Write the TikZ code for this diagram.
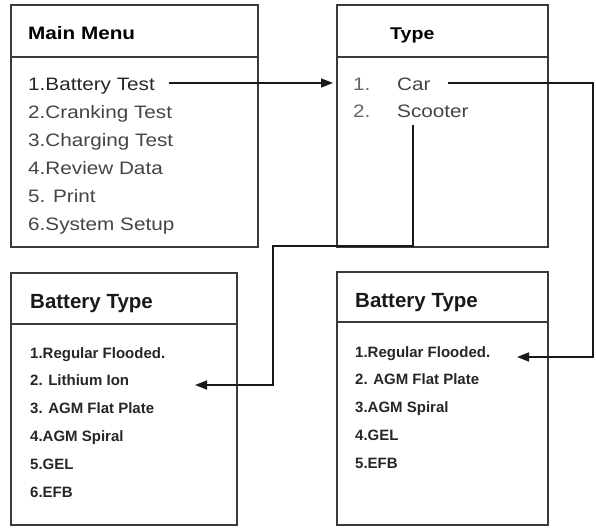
\documentclass[tikz,border=0pt]{standalone}
\usepackage{fontspec}
\setmainfont{Liberation Sans}
\newfontfamily\widefont[FakeStretch=1.15]{Liberation Sans}
\usepackage{tikz}
\usetikzlibrary{positioning}
\usetikzlibrary{arrows.meta}
\usepackage{xcolor}
\definecolor{framegray}{HTML}{3A3A3A}
\definecolor{itemgray}{HTML}{444444}
\definecolor{numgray}{HTML}{666666}

\begin{document}
\begin{tikzpicture}[
        x=1pt, y=-1pt,
        node distance=27.8pt,
        panel/.style={draw=framegray, line width=1.7pt, rectangle, inner sep=0pt},
        rule/.style={draw=framegray, line width=1.7pt},
        heading/.style={anchor=base west, inner sep=0pt, text=black,
            font=\widefont\fontsize{18}{20}\selectfont\bfseries},
        bigheading/.style={anchor=base west, inner sep=0pt, text=black!90,
            font=\fontsize{20.5}{24}\selectfont\bfseries},
        menuitem/.style={anchor=base west, inner sep=0pt, text=itemgray,
            font=\widefont\fontsize{18}{20}\selectfont},
        numitem/.style={anchor=base west, inner sep=0pt, text=numgray,
            font=\widefont\fontsize{18}{20}\selectfont},
        batitem/.style={anchor=base west, inner sep=0pt, text=black!85,
            font=\fontsize{15}{18}\selectfont\bfseries},
        conn/.style={draw=black!90, line width=1.6pt, -{Triangle[length=12pt, width=9pt]}}
        ]
        \useasboundingbox (0,0) rectangle (596,529);

        \node[panel, minimum width=247pt, minimum height=242pt] (mainbox) at (134.5,126) {};
        \node[panel, minimum width=211pt, minimum height=242pt] (typebox) at (442.5,126) {};
        \node[panel, minimum width=226pt, minimum height=252pt] (leftbox) at (124,399) {};
        \node[panel, minimum width=211pt, minimum height=253pt] (rightbox) at (442.5,398.5) {};

        \draw[rule] ([yshift=-53pt]mainbox.north west) -- ([yshift=-53pt]mainbox.north east);
        \draw[rule] ([yshift=-53pt]typebox.north west) -- ([yshift=-53pt]typebox.north east);
        \draw[rule] ([yshift=-52pt]leftbox.north west) -- ([yshift=-52pt]leftbox.north east);
        \draw[rule] ([yshift=-51pt]rightbox.north west) -- ([yshift=-51pt]rightbox.north east);

        \node[heading] (maintitle) at (28,40) {Main Menu};
        \node[heading, font=\widefont\fontsize{17}{20}\selectfont\bfseries] (typetitle) at (390,40) {Type};
        \node[bigheading] (lefttitle) at (30,308) {Battery Type};
        \node[bigheading] (righttitle) at (355,307) {Battery Type};

        \node[menuitem, text=black!85] (mm1) at (28,91) {1.Battery Test};
        \node[menuitem, below=of mm1.base west, anchor=base west] (mm2) {2.Cranking Test};
        \node[menuitem, below=of mm2.base west, anchor=base west] (mm3) {3.Charging Test};
        \node[menuitem, below=of mm3.base west, anchor=base west] (mm4) {4.Review Data};
        \node[menuitem, below=of mm4.base west, anchor=base west] (mm5) {5. Print};
        \node[menuitem, below=of mm5.base west, anchor=base west] (mm6) {6.System Setup};

        \node[numitem] (tn1) at (353,91) {1.};
        \node[menuitem, right=44pt of tn1.base west, anchor=base west] (car) {Car};
        \node[numitem, below=27pt of tn1.base west, anchor=base west] (tn2) {2.};
        \node[menuitem, right=44pt of tn2.base west, anchor=base west] (scooter) {Scooter};

        \node[batitem] (lb1) at (30,358) {1.Regular Flooded.};
        \node[batitem, below=of lb1.base west, anchor=base west] (lb2) {2. Lithium Ion};
        \node[batitem, below=of lb2.base west, anchor=base west] (lb3) {3. AGM Flat Plate};
        \node[batitem, below=of lb3.base west, anchor=base west] (lb4) {4.AGM Spiral};
        \node[batitem, below=of lb4.base west, anchor=base west] (lb5) {5.GEL};
        \node[batitem, below=of lb5.base west, anchor=base west] (lb6) {6.EFB};

        \node[batitem] (rb1) at (355,357) {1.Regular Flooded.};
        \node[batitem, below=of rb1.base west, anchor=base west] (rb2) {2. AGM Flat Plate};
        \node[batitem, below=of rb2.base west, anchor=base west] (rb3) {3.AGM Spiral};
        \node[batitem, below=of rb3.base west, anchor=base west] (rb4) {4.GEL};
        \node[batitem, below=of rb4.base west, anchor=base west] (rb5) {5.EFB};

        \coordinate (typetip) at (333,83);
        \coordinate (righttip) at (517,357);
        \coordinate (lefttip) at (195,385);
        \coordinate (rightrail) at (593,0);
        \coordinate (leftrail) at (273,0);
        \coordinate (midrail) at (0,246);

        \draw[conn, shorten <=14pt] (typetip -| mm1.east) -- (typetip);
        \draw[conn, shorten <=17pt] (car.east |- typetip) -| (rightrail |- righttip) -- (righttip);
        \draw[conn, shorten <=7pt] ([xshift=16pt]scooter.south west) |- (leftrail |- midrail) |- (lefttip);
\end{tikzpicture}
\end{document}
